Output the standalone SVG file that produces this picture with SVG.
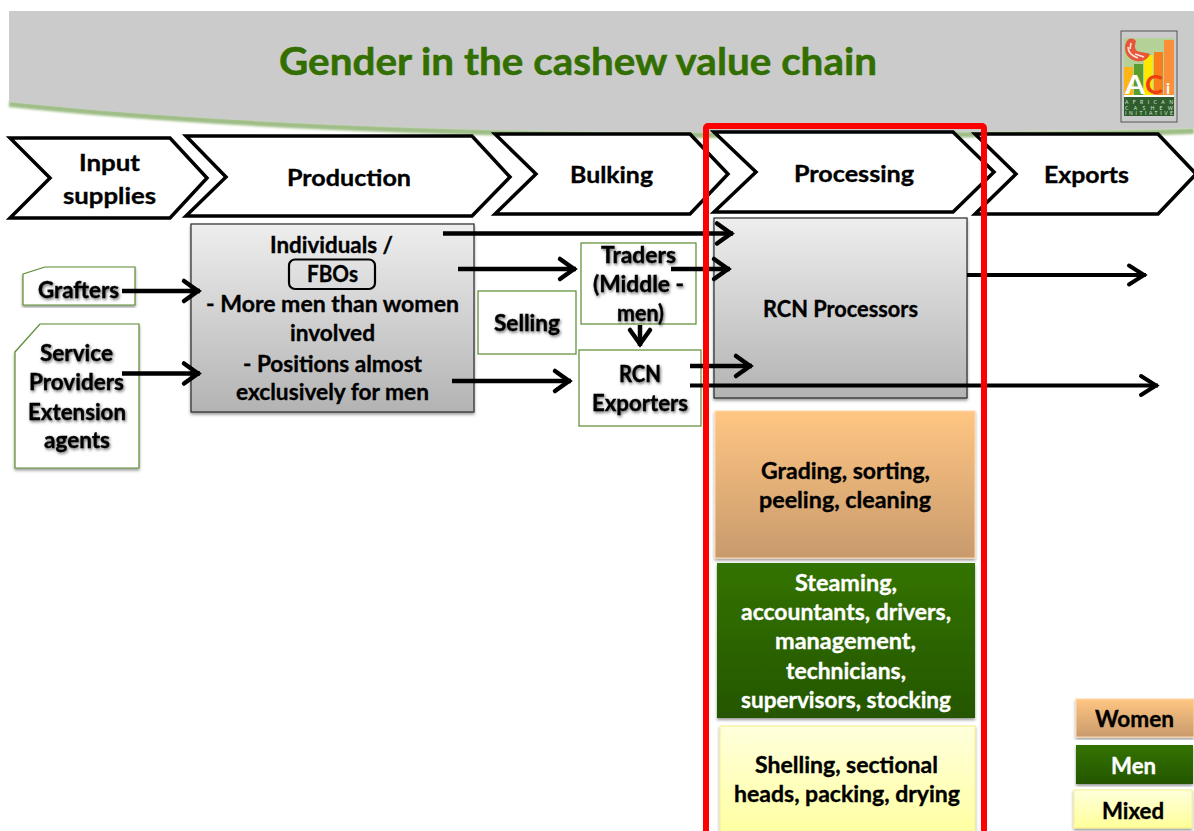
<svg xmlns="http://www.w3.org/2000/svg" width="1194" height="831" viewBox="0 0 1194 831">
<style>
text{font-family:"Lato","Carlito","Liberation Sans",sans-serif;font-weight:700;font-size:23px;fill:#000;stroke:#000;stroke-width:.35}
.w{fill:#fff;stroke:#fff}
.s{filter:url(#ts)}
.chev{fill:#fff;stroke:#000;stroke-width:3.5;stroke-linejoin:miter}
.gbox{fill:#fff;stroke:#5a8a30;stroke-width:1.2}
.gray{fill:url(#gg);stroke:#2a2a2a;stroke-width:1.2;filter:url(#bs)}
.arr{stroke:#000;stroke-width:4.500;fill:none;marker-end:url(#ah)}
.arr2{stroke:#000;stroke-width:4;fill:none;marker-end:url(#ah2)}
text.lg{font-size:5px;fill:#dfe9d6;stroke:none;font-weight:400}
text.logo{stroke:none}
</style>
<defs>
<linearGradient id="gg" x1="0" y1="0" x2="0" y2="1"><stop offset="0" stop-color="#eeeeee"/><stop offset="1" stop-color="#b3b3b3"/></linearGradient>
<linearGradient id="og" x1="0" y1="0" x2="0" y2="1"><stop offset="0" stop-color="#ffc683"/><stop offset="1" stop-color="#c89a6c"/></linearGradient>
<linearGradient id="ng" x1="0" y1="0" x2="0" y2="1"><stop offset="0" stop-color="#327300"/><stop offset="1" stop-color="#265600"/></linearGradient>
<linearGradient id="yg" x1="0" y1="0" x2="0" y2="1"><stop offset="0" stop-color="#ffffdc"/><stop offset="1" stop-color="#ffff99"/></linearGradient>
<filter id="ts" x="-15%" y="-30%" width="130%" height="170%"><feDropShadow dx="1" dy="1.500" stdDeviation="1.400" flood-color="#000" flood-opacity=".6"/></filter>
<filter id="bs" x="-5%" y="-5%" width="110%" height="112%"><feDropShadow dx="0" dy="2" stdDeviation="1.500" flood-color="#000" flood-opacity=".4"/></filter>
<filter id="bl" x="-2%" y="-50%" width="104%" height="200%"><feGaussianBlur stdDeviation="1"/></filter>
<marker id="ah" markerUnits="userSpaceOnUse" viewBox="-18 -14 24 28" markerWidth="24" markerHeight="28" refX="2" refY="0" orient="auto"><path d="M-14,-10 L0,0 L-14,10" fill="none" stroke="#000" stroke-width="4.500" stroke-linecap="round" stroke-linejoin="miter"/></marker>
<marker id="ah2" markerUnits="userSpaceOnUse" viewBox="-18 -14 24 28" markerWidth="24" markerHeight="28" refX="2" refY="0" orient="auto"><path d="M-15,-9.500 L0,0 L-15,9.500" fill="none" stroke="#000" stroke-width="4" stroke-linecap="round"/></marker>
</defs>
<rect width="1194" height="831" fill="#fff"/>
<g id="header">
<path d="M9,104 C200,124 450,135 700,135 C900,135 1100,134 1194,131" fill="none" stroke="#9fbd86" stroke-width="6" filter="url(#bl)"/>
<path d="M9,11 H1194 V128 C1100,131 900,132 700,132 C450,132 200,122 9,102 Z" fill="#cbcbcb"/>
<text x="279" y="74.500" style="font-size:38px;fill:#336f00;stroke:#336f00;stroke-width:.5" textLength="598" lengthAdjust="spacingAndGlyphs">Gender in the cashew value chain</text>
</g>
<g id="logo">
<rect x="1121" y="31" width="56" height="91" fill="#cbcbcb" stroke="#555" stroke-width="1"/>
<rect x="1124" y="38" width="50" height="78" fill="#fff"/>
<rect x="1124" y="38" width="50" height="57" fill="#b4d198"/>
<rect x="1124" y="67" width="9" height="28" fill="#fdb515"/>
<rect x="1134" y="64" width="9" height="31" fill="#5b9e2e"/>
<rect x="1144" y="55" width="9" height="40" fill="#ffe800"/>
<rect x="1154" y="52" width="9" height="43" fill="#f97f1a"/>
<rect x="1164" y="40" width="10" height="55" fill="#fb8f3a"/>
<path d="M1129,39 C1124,42 1123,54 1131,59 C1138,63 1147,62 1150,54 C1146,52 1141,53 1137,51 C1134,49 1135,44 1136,41 C1134,38 1131,38 1129,39 Z" fill="#e8553a"/>
<path d="M1128,47 C1128,52 1132,56 1138,58 M1131,43 L1130,49 M1135,54 L1144,57" fill="none" stroke="#fbe3da" stroke-width="1.600"/>
<text class="logo" x="1125" y="94" style="font-size:27px;fill:#fff" textLength="20" lengthAdjust="spacingAndGlyphs">A</text>
<text class="logo" x="1145" y="94" style="font-size:27px;fill:#ee3c12" textLength="18" lengthAdjust="spacingAndGlyphs">C</text>
<text class="logo" x="1166" y="94" style="font-size:16px;fill:#fff">i</text>
<rect x="1124" y="97" width="50" height="19" fill="#2f5d2e"/>
<text class="lg" x="1125" y="104" textLength="48" lengthAdjust="spacing">AFRICAN</text>
<text class="lg" x="1125" y="109.500" textLength="48" lengthAdjust="spacing">CASHEW</text>
<text class="lg" x="1125" y="115" textLength="48" lengthAdjust="spacing">INITIATIVE</text>
</g>
<g id="stage-input">
<polygon class="chev" points="10,138 170,138 207,178 170,218 10,218 50,178"/>
<text x="79" y="171" textLength="61" lengthAdjust="spacingAndGlyphs">Input</text>
<text x="63" y="204" textLength="93" lengthAdjust="spacingAndGlyphs">supplies</text>
</g>
<g id="stage-production">
<polygon class="chev" points="186,136 472,136 510,177 472,216 186,216 226,177"/>
<text x="287" y="186" textLength="124" lengthAdjust="spacingAndGlyphs">Production</text>
</g>
<g id="stage-bulking">
<polygon class="chev" points="495,134 690,134 728,174 690,214 495,214 536,174"/>
<text x="570" y="183" textLength="83" lengthAdjust="spacingAndGlyphs">Bulking</text>
</g>
<g id="stage-exports">
<polygon class="chev" points="975,134 1158,134 1196,174 1158,214 975,214 1016,174"/>
<text x="1044" y="183" textLength="85" lengthAdjust="spacingAndGlyphs">Exports</text>
</g>
<g id="stage-processing">
<polygon class="chev" points="714,132 953,132 994,172 953,212 714,212 756,172"/>
<text x="794" y="182" textLength="120" lengthAdjust="spacingAndGlyphs">Processing</text>
</g>
<g id="individuals">
<rect class="gray" x="191" y="224" width="283" height="188"/>
<rect x="289" y="259.500" width="86" height="29.500" rx="6" fill="none" stroke="#000" stroke-width="2.200"/>
<text x="270" y="253" textLength="123" lengthAdjust="spacingAndGlyphs">Individuals /</text>
<text x="307" y="282" textLength="51" lengthAdjust="spacingAndGlyphs">FBOs</text>
<text x="206" y="312" textLength="253" lengthAdjust="spacingAndGlyphs">- More men than women</text>
<text x="290" y="341" textLength="85" lengthAdjust="spacingAndGlyphs">involved</text>
<text x="243" y="371.500" textLength="179" lengthAdjust="spacingAndGlyphs">- Positions almost</text>
<text x="236" y="400" textLength="193" lengthAdjust="spacingAndGlyphs">exclusively for men</text>
</g>
<g id="grafters">
<path class="gbox" d="M23,274 L45,267 H135 V305 H23 Z" filter="url(#bs)"/>
<text class="s" x="38" y="298" textLength="81" lengthAdjust="spacingAndGlyphs">Grafters</text>
</g>
<g id="service-providers">
<path class="gbox" d="M15,352 L40,324 H139 V468 H15 Z" filter="url(#bs)"/>
<text class="s" x="40" y="361" textLength="73" lengthAdjust="spacingAndGlyphs">Service</text>
<text class="s" x="29" y="390" textLength="95" lengthAdjust="spacingAndGlyphs">Providers</text>
<text class="s" x="28" y="419.500" textLength="98" lengthAdjust="spacingAndGlyphs">Extension</text>
<text class="s" x="44" y="448" textLength="66" lengthAdjust="spacingAndGlyphs">agents</text>
</g>
<g id="selling">
<rect class="gbox" x="478" y="291" width="98" height="63"/>
<text class="s" x="494" y="331" textLength="66" lengthAdjust="spacingAndGlyphs">Selling</text>
</g>
<g id="traders">
<rect class="gbox" x="581" y="243" width="115" height="81"/>
<text class="s" x="601" y="263" textLength="75" lengthAdjust="spacingAndGlyphs">Traders</text>
<text class="s" x="593" y="292" textLength="91" lengthAdjust="spacingAndGlyphs">(Middle -</text>
<text class="s" x="617" y="321" textLength="47" lengthAdjust="spacingAndGlyphs">men)</text>
</g>
<g id="rcn-exporters">
<rect class="gbox" x="579" y="350" width="122" height="76"/>
<text class="s" x="619" y="382" textLength="42" lengthAdjust="spacingAndGlyphs">RCN</text>
<text class="s" x="592" y="411" textLength="96" lengthAdjust="spacingAndGlyphs">Exporters</text>
</g>
<g id="rcn-processors">
<rect class="gray" x="714" y="218" width="253" height="180"/>
<text x="763" y="317" textLength="155" lengthAdjust="spacingAndGlyphs">RCN Processors</text>
</g>
<g id="grading">
<rect x="715" y="411" width="260" height="147" fill="url(#og)" stroke="#ffd9ad" stroke-width="1" filter="url(#bs)"/>
<text x="761" y="479" textLength="169" lengthAdjust="spacingAndGlyphs">Grading, sorting,</text>
<text x="759" y="508" textLength="172" lengthAdjust="spacingAndGlyphs">peeling, cleaning</text>
</g>
<g id="steaming">
<rect x="717" y="563" width="258" height="155" fill="url(#ng)" filter="url(#bs)"/>
<text class="w" x="795" y="591" textLength="102" lengthAdjust="spacingAndGlyphs">Steaming,</text>
<text class="w" x="741" y="620" textLength="210" lengthAdjust="spacingAndGlyphs">accountants, drivers,</text>
<text class="w" x="775" y="649" textLength="141" lengthAdjust="spacingAndGlyphs">management,</text>
<text class="w" x="786" y="679" textLength="120" lengthAdjust="spacingAndGlyphs">technicians,</text>
<text class="w" x="741" y="708" textLength="210" lengthAdjust="spacingAndGlyphs">supervisors, stocking</text>
</g>
<g id="shelling">
<rect x="720" y="726" width="255" height="125" fill="url(#yg)" stroke="#f7ef8a" stroke-width="1" filter="url(#bs)"/>
<text x="755" y="772.500" textLength="183" lengthAdjust="spacingAndGlyphs">Shelling, sectional</text>
<text x="734" y="802" textLength="226" lengthAdjust="spacingAndGlyphs">heads, packing, drying</text>
</g>
<g id="legend-women">
<rect x="1076" y="699" width="118" height="38" fill="url(#og)" stroke="#ffd9ad" stroke-width="1" filter="url(#bs)"/>
<text x="1095" y="726.500" textLength="79" lengthAdjust="spacingAndGlyphs">Women</text>
</g>
<g id="legend-men">
<rect x="1076" y="745" width="117" height="39" fill="url(#ng)" filter="url(#bs)"/>
<text class="w" x="1111" y="774" textLength="45" lengthAdjust="spacingAndGlyphs">Men</text>
</g>
<g id="legend-mixed">
<rect x="1074" y="790" width="118" height="38" fill="url(#yg)" stroke="#f7ef8a" stroke-width="1" filter="url(#bs)"/>
<text x="1102" y="819" textLength="62" lengthAdjust="spacingAndGlyphs">Mixed</text>
</g>
<g id="connectors">
<path class="arr" d="M443,233.500 H733"/>
<path class="arr" d="M458,269 H576"/>
<path class="arr" d="M671,269 H730"/>
<path class="arr" d="M640,325 V346"/>
<path class="arr" d="M452,381 H571"/>
<path class="arr" d="M690,366 H752"/>
<path class="arr2" d="M690,385.500 H1158"/>
<path class="arr2" d="M967,275 H1146"/>
<path class="arr" d="M122,291 H200"/>
<path class="arr" d="M122,373.500 H200"/>
</g>
<g id="highlight">
<rect x="706" y="126" width="278" height="730" rx="2" fill="none" stroke="#ff0000" stroke-width="6"/>
</g>
</svg>
